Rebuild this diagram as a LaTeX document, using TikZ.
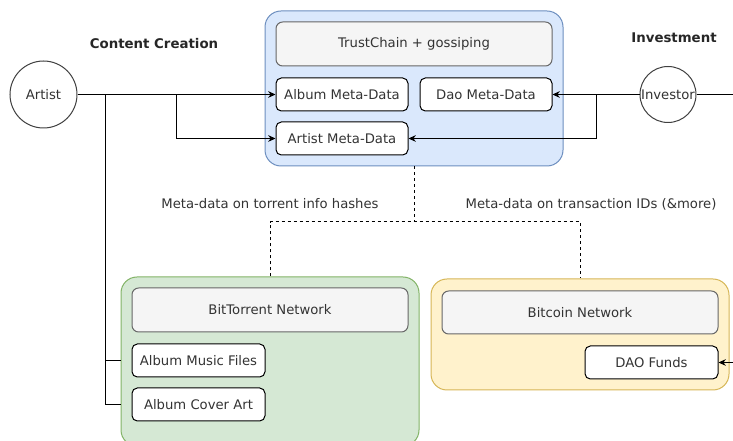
\documentclass[tikz,border=0pt]{standalone}
\usepackage{fontspec}
\setmainfont{DejaVu Sans}
\usepackage{xcolor}
\usetikzlibrary{arrows.meta}

\definecolor{blueFill}{RGB}{218,232,252}
\definecolor{blueLine}{RGB}{108,142,191}
\definecolor{greenFill}{RGB}{213,232,212}
\definecolor{greenLine}{RGB}{130,179,102}
\definecolor{yellowFill}{RGB}{255,242,204}
\definecolor{yellowLine}{RGB}{214,182,86}
\definecolor{barFill}{RGB}{245,245,245}
\definecolor{barLine}{RGB}{102,102,102}
\definecolor{textGray}{RGB}{51,51,51}

\begin{document}
\begin{tikzpicture}[x=0.75pt,y=0.75pt,yscale=-1,xscale=1,
  font=\fontsize{9.9}{12}\selectfont,
  group/.style={draw, line width=0.75pt, rounded corners=12pt, minimum width=223.5pt, inner sep=0pt},
  bar/.style={draw=barLine, fill=barFill, text=textGray, line width=0.75pt, rounded corners=5pt, minimum width=207pt, minimum height=33pt, inner sep=0pt},
  item/.style={draw=black, fill=white, text=textGray, line width=0.75pt, rounded corners=4pt, minimum width=99pt, minimum height=24.75pt, inner sep=0pt},
  actor/.style={draw=black!75, fill=white, text=textGray, circle, line width=0.75pt, inner sep=0pt},
  heading/.style={font=\fontsize{10}{12}\selectfont\bfseries, text=black!85},
  note/.style={text=textGray},
  link/.style={line width=0.75pt, -{Stealth[length=5.5pt,width=5pt]}},
  wire/.style={line width=0.75pt},
  hint/.style={line width=0.75pt, dash pattern=on 2.25pt off 2.25pt}]
\useasboundingbox (0,0) rectangle (733,441);

% Containers
\node[group, draw=blueLine, fill=blueFill, minimum height=116.25pt] (trust) at (414,88.5) {};
\node[group, draw=greenLine, fill=greenFill, minimum height=126.75pt] (torrent) at (270,361.5) {};
\node[group, draw=yellowLine, fill=yellowFill, minimum height=83.25pt] (bitcoin) at (580,334.5) {};

% Boxes inside TrustChain
\node[bar] (trustbar) at (414,44) {TrustChain + gossiping};
\node[item] (albummeta) at (342,94.5) {Album Meta-Data};
\node[item] (daometa) at (486,94.5) {Dao Meta-Data};
\node[item] (artistmeta) at (342,138.5) {Artist Meta-Data};

% Boxes inside BitTorrent
\node[bar] (torrentbar) at (270,310) {BitTorrent Network};
\node[item, minimum width=99.75pt] (musicfiles) at (198.5,360.5) {Album Music Files};
\node[item, minimum width=99.75pt] (coverart) at (198.5,404.5) {Album Cover Art};

% Boxes inside Bitcoin
\node[bar, minimum height=32.25pt] (bitcoinbar) at (580,312.5) {Bitcoin Network};
\node[item, minimum width=99.75pt] (daofunds) at (651.5,362.5) {DAO Funds};

% Actors
\node[actor, minimum size=50.25pt] (artist) at (43.5,94.5) {Artist};
\node[actor, minimum size=42pt] (investor) at (668,94.5) {Investor};

% Headings and labels
\node[heading] (creation) at (154,44) {Content Creation};
\node[heading] (investment) at (674,38) {Investment};
\node[note] (torrentnote) at (270,204) {Meta-data on torrent info hashes};
\node[note] (txnote) at (591,204) {Meta-data on transaction IDs (\&more)};

% Artist side
\coordinate (artistsplit) at (176,94.5);
\coordinate (filesplit) at (105,94.5);
\draw[link] (artist.east) -- (albummeta.west);
\draw[link] (artistsplit) |- (artistmeta.west);
\draw[wire] (filesplit) |- (musicfiles.west -| torrent.west);
\draw[wire] (filesplit) |- (coverart.west -| torrent.west);

% Investor side
\coordinate (investsplit) at (596,94.5);
\coordinate (offpage) at (760,94.5);
\draw[link] (investor.west) -- (daometa.east);
\draw[link] (investsplit) |- (artistmeta.east);
\draw[link] (investor.east) -- (offpage) |- (daofunds.east);

% Dashed links to the networks
\coordinate (dashjoin) at (414,222);
\draw[hint] (trust.south) -- (dashjoin);
\draw[hint] (torrent.north) -- (torrent.north |- dashjoin) -- (bitcoin.north |- dashjoin) -- (bitcoin.north);

\end{tikzpicture}
\end{document}
